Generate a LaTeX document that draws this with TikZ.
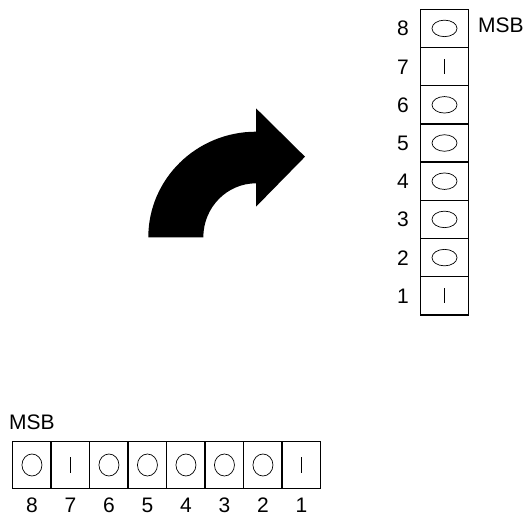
\documentclass[tikz,border=0pt]{standalone}
\usepackage{fontspec}
\setmainfont{Liberation Sans}
\usetikzlibrary{shapes.geometric}
\begin{document}
\begin{tikzpicture}[x=1pt,y=-1pt,
  cellbox/.style={draw,line width=1.5pt,inner sep=0pt,outer sep=0pt},
  vcell/.style={cellbox,minimum width=47.6pt,minimum height=38.2pt},
  hcell/.style={cellbox,minimum width=38.5pt,minimum height=46.6pt},
  lbl/.style={font=\fontsize{21}{24}\selectfont,inner sep=0pt,anchor=base},
  vring/.style={draw,line width=0.7pt,ellipse,minimum width=25pt,minimum height=16.5pt,inner sep=0pt},
  hring/.style={draw,line width=0.7pt,ellipse,minimum width=20pt,minimum height=22pt,inner sep=0pt},
  barline/.style={line width=0.8pt}]
\useasboundingbox (0,0) rectangle (532,516);
% vertical column
\foreach \i in {1,...,8}{
  \node[vcell] (v\i) at (444.5,{9.3+(8-\i)*38.2+19.1}) {};
  \node[lbl] (vn\i) at (403,{9.3+(8-\i)*38.2+19.1+7.5}) {\i};
}
\foreach \i in {8,6,5,4,3,2}{ \node[vring] (vr\i) at (v\i) {}; }
\foreach \i in {7,1}{ \draw[barline] ([yshift=7.5pt]v\i.center) -- ([yshift=-7.5pt]v\i.center); }
\node[lbl,anchor=base west] (vmsb) at (478,32.5) {MSB};
% horizontal row
\foreach \i in {1,...,8}{
  \node[hcell] (h\i) at ({12.7+(8-\i)*38.5+19.25},465) {};
  \node[lbl] (hn\i) at ({12.7+(8-\i)*38.5+19.25},512) {\i};
}
\foreach \i in {8,6,5,4,3,2}{ \node[hring] (hr\i) at (h\i) {}; }
\foreach \i in {7,1}{ \draw[barline] ([yshift=8pt]h\i.center) -- ([yshift=-8pt]h\i.center); }
\node[lbl,anchor=base west] (hmsb) at (9,429) {MSB};
% curved arrow
\fill[black] (148.3,237.3) arc[start angle=180,end angle=90,x radius=107.7pt,y radius=105.6pt]
  -- (256,108.3) -- (305,156.7) -- (256,206.7) -- (256,183.3)
  arc[start angle=90,end angle=180,x radius=52.7pt,y radius=54pt] -- cycle;
\end{tikzpicture}
\end{document}
